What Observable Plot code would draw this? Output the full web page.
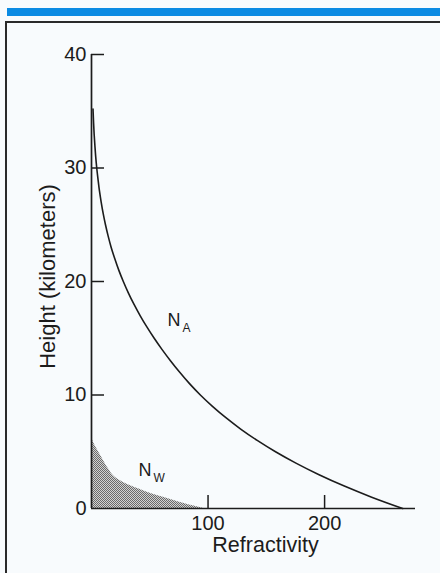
<!DOCTYPE html>
<html><head><meta charset="utf-8">
<script src="https://cdn.jsdelivr.net/npm/d3@7"></script>
<script src="https://cdn.jsdelivr.net/npm/@observablehq/plot@0.6"></script>
<style>
html,body{margin:0;padding:0;background:#f8fbfd;}
#page{position:relative;width:440px;height:573px;overflow:hidden;background:#f8fbfd;}
#bar{position:absolute;left:7px;top:8px;width:433px;height:8px;background:#0b8be3;}
#frame{position:absolute;left:5px;top:21px;width:470px;height:600px;border:2px solid #2a2a2a;box-sizing:border-box;}
#chart{position:absolute;left:0;top:0;}
</style></head><body>
<div id="page"><div id="bar"></div><div id="frame"></div><div id="chart"></div></div>
<script>
// N_A (dry air refractivity): height (km) and refractivity
const naHeight = [35.2, 35, 34, 33, 32, 31, 30, 29, 28, 27, 26, 25, 24, 23, 22, 21, 20, 19, 18, 17, 16, 15, 14, 13, 12, 11, 10, 9, 8, 7, 6, 5, 4, 3, 2, 1, 0];
const naValue  = [1.3, 1.37, 1.77, 2.26, 2.9, 3.6, 4.5, 5.6, 6.8, 8.3, 10.0, 12.0, 14.3, 16.9, 20.0, 23.4, 27.3, 31.6, 36.4, 41.7, 47.5, 53.8, 60.6, 67.9, 75.7, 84.1, 93.4, 103.8, 115.3, 128, 142.2, 157.9, 175.4, 194.8, 216.4, 240.4, 267];
// N_W (water vapour refractivity)
const nwHeight = [6.28, 5.55, 4.52, 3.5, 2.76, 2.23, 1.73, 1.29, 0.86, 0.41, 0];
const nwValue  = [0, 3.0, 8.7, 14.5, 20.2, 28.7, 40.2, 51.6, 65.9, 80.2, 96.4];
const yTicks = [0, 10, 20, 30, 40];
const xTicks = [100, 200];
const xTitle = "Refractivity";
const yTitle = "Height (kilometers)";
const labelBase = ["N", "N"];
const labelSub = ["A", "W"];
const labelX = [65.2, 40.3];
const labelY = [16.56, 3.35];

const na = naHeight.map((h, i) => ({h, n: naValue[i]}));
const nw = nwHeight.map((h, i) => ({h, n: nwValue[i]}));
const labels = labelBase.map((b, i) => ({base: b, sub: labelSub[i], x: labelX[i], y: labelY[i]}));

const W = 440, H = 573, mL = 91, mR = 25, mT = 54, mB = 65;
const fw = W - mL - mR, fh = H - mT - mB;
const ink = "#1c1c1c";

const svg = Plot.plot({
  width: W, height: H,
  marginLeft: mL, marginRight: mR, marginTop: mT, marginBottom: mB,
  x: {domain: [0, 278], axis: null},
  y: {domain: [0, 40], axis: null},
  style: {background: "transparent", fontFamily: "'Liberation Sans', Arial, Helvetica, sans-serif", fontSize: "20px", color: ink, overflow: "visible"},
  marks: [
    Plot.areaX(nw, {y: "h", x: "n", fill: "url(#stipple)", curve: "monotone-y"}),
    Plot.ruleX([0], {stroke: ink, strokeWidth: 1.7}),
    Plot.ruleY([0], {stroke: ink, strokeWidth: 1.7}),
    Plot.tickY(yTicks.filter(d => d > 0), {y: d => d, insetRight: fw - 13, stroke: ink, strokeWidth: 1.5}),
    Plot.tickX(xTicks, {x: d => d, insetTop: fh - 13, stroke: ink, strokeWidth: 1.5}),
    Plot.axisY({ticks: yTicks, tickSize: 0, tickPadding: 5, label: null, fill: ink, fontSize: 20}),
    Plot.axisX({ticks: xTicks, tickSize: 0, tickPadding: 7, label: null, fill: ink, fontSize: 20}),
    Plot.line(na, {x: "n", y: "h", curve: "monotone-y", stroke: ink, strokeWidth: 1.6}),
    Plot.text([yTitle], {frameAnchor: "left", rotate: -90, textAnchor: "middle", lineAnchor: "middle", dx: -44, dy: -5, fontSize: 22, fill: ink}),
    Plot.text([xTitle], {frameAnchor: "bottom", textAnchor: "middle", lineAnchor: "middle", dx: 12, dy: 37, fontSize: 21.5, fill: ink}),
    Plot.text(labels, {x: "x", y: "y", text: "base", textAnchor: "start", fontSize: 18, fill: ink}),
    Plot.text(labels, {x: "x", y: "y", text: "sub", textAnchor: "start", dx: 15, dy: 8, fontSize: 12, fill: ink})
  ]
});

const ns = "http://www.w3.org/2000/svg";
const defs = document.createElementNS(ns, "defs");
defs.innerHTML = '<pattern id="stipple" width="2" height="2" patternUnits="userSpaceOnUse"><rect width="2" height="2" fill="#d2d2d2"/><rect width="1" height="1" fill="#6a6a6a"/><rect x="1" y="1" width="1" height="1" fill="#6a6a6a"/></pattern>';
svg.insertBefore(defs, svg.firstChild);
document.getElementById("chart").appendChild(svg);
</script>
</body></html>
